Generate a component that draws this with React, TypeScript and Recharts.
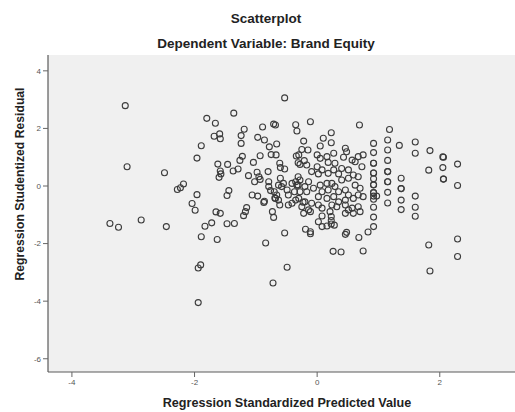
import { ScatterChart, Scatter, XAxis, YAxis, CartesianGrid } from 'recharts';

// Regression Standardized Predicted Value (x) / Regression Studentized Residual (y)
const predicted: number[] = [
  -3.13, -3.1, -2.49, -3.38, -3.24, -2.87, -2.46, -2.18, -2.28, -2.23, -1.96, -2.04, -1.99,
  -1.89, -1.96, -1.8, -1.66, -1.68, -1.59, -1.58, -1.36, -1.62, -1.58, -1.6, -1.57, -1.46,
  -1.37, -1.29, -1.26, -1.22, -1.19, -1.24, -1.24, -1.44, -1.47, -1.65, -1.58, -1.15, -1.17,
  -1.2, -1.83, -1.72, -1.47, -1.35, -1.89, -1.63, -0.84, -0.53, -0.53, -1.94, -1.9, -1.94,
  -0.72, -0.49,
  -0.71, -0.68, -0.89, -0.97, -0.86, -0.35, -0.33, -0.78, -0.66, -0.75, -0.67, -1.04, -0.93,
  -1.12, -0.98, -0.95, -1.02, -0.8, -0.93, -0.61, -0.6, -0.53, -0.34, -0.31, -0.31, -0.79,
  -0.79, -0.7, -0.76, -0.6, -0.55, -0.63, -0.49, -0.41, -0.35, -0.31, -0.37, -0.47, -0.58,
  -0.68, -0.63, -0.66, -1.06, -0.97, -0.86, -0.47, -0.41, -0.35, -0.73, -0.71, -0.87, -0.61,
  -0.23, -0.69,
  -0.11, 0.69, 0.23, 0.23, 0.1, 0.05, -0.22, -0.25, -0.15, -0.3, -0.21, -0.28, -0.17,
  0.0, 0.05, 0.16, 0.27, 0.18, 0.29, 0.46, 0.48, 0.43, 0.57, 0.62, 0.67, 0.75, 0.73,
  0.0, 0.08, 0.02, -0.09, 0.18, 0.27, 0.35, 0.4, 0.51, 0.59, 0.67, 0.51, 0.4,
  -0.28, -0.14, -0.2, -0.33, -0.28, -0.17, -0.06,
  0.05, 0.16, 0.24, 0.29, 0.18, 0.08, 0.35, 0.46, 0.27, 0.16, 0.02,
  0.62, 0.7, 0.67, 0.59, 0.75, 0.51, 0.46, 0.35,
  -0.3, -0.2, -0.09, -0.25, -0.14,
  0.02, 0.08, 0.24, 0.21, 0.23, 0.23, 0.32, 0.46, 0.51, 0.46, 0.57, 0.67, 0.7, 0.59,
  -0.22, -0.11, 0.02, 0.08, 0.16, 0.23, 0.28, 0.08,
  1.18, 0.26, 0.39, 0.75, -0.19, -0.11, -0.11, 0.46, 0.48, 0.68, 0.83,
  0.92, 0.92, 0.92, 0.92, 0.92, 0.92, 0.92, 0.92, 0.92, 0.92, 0.92, 0.92,
  0.92, 0.92, 0.92, 0.92, 0.97,
  1.15, 1.15, 1.15, 1.15, 1.15, 1.15, 1.15, 1.15, 1.15,
  1.37, 1.37, 1.37, 1.37, 1.37, 1.34,
  1.6, 1.6, 1.6, 1.6, 1.6,
  1.84, 1.82, 2.05, 2.05, 2.06, 2.06, 2.06, 2.29, 2.29,
  1.82, 2.29, 2.29, 1.84,
];

const residual: number[] = [
  2.79, 0.67, 0.46, -1.3, -1.43, -1.18, -1.41, 0.07, -0.12, -0.06, -0.3, -0.61, -0.84,
  1.4, 0.97, 2.35, 2.18, 1.73, 1.81, 1.64, 2.53, 0.76, 0.52, 0.3, 0.42, 0.75,
  0.52, 0.59, 0.89, 1.03, 1.97, 1.75, 1.48, -0.16, -0.33, -0.9, -0.95, -0.75, -0.89,
  -1.03, -1.4, -1.28, -1.31, -1.3, -1.76, -1.86, -1.98, -1.63, 3.06, -2.85, -2.74, -4.05,
  -3.37, -2.82,
  2.15, 2.12, 2.05, 1.69, 1.6, 2.13, 1.91, 1.36, 1.46, 1.09, 1.08, 0.82, 1.05,
  0.36, 0.48, 0.32, 0.15, 0.5, 0.23, 0.79, 0.64, 0.59, 1.04, 0.81, 0.32, 0.15,
  -0.02, -0.2, -0.16, 0.27, 0.09, 0.03, -0.14, 0.09, 0.15, 0.03, -0.2, -0.31, -0.02,
  -0.43, -0.49, -0.31, -0.31, -0.35, -0.53, -0.66, -0.6, -0.49, -0.89, -1.09, -0.57, -0.66,
  -0.56, -0.42,
  2.23, 2.12, 1.85, 1.5, 1.66, 1.39, 1.56, 1.27, 1.25, 1.08, 0.88, 0.75, 0.73,
  1.08, 0.96, 1.02, 1.14, 0.82, 0.79, 1.31, 1.19, 1.0, 0.9, 0.84, 1.02, 1.08, 0.67,
  0.67, 0.56, 0.42, 0.5, 0.44, 0.56, 0.42, 0.61, 0.56, 0.38, 0.32, 0.27, 0.21,
  0.21, 0.15, -0.02, 0.03, -0.2, -0.2, -0.08,
  0.03, 0.09, 0.09, -0.02, -0.14, -0.2, -0.2, -0.14, -0.37, -0.43, -0.37,
  0.03, -0.08, -0.31, -0.43, -0.37, -0.31, -0.49, -0.55,
  -0.43, -0.55, -0.6, -0.72, -0.83,
  -0.66, -0.77, -0.66, -0.89, -1.06, -1.2, -0.72, -0.66, -0.83, -0.95, -0.77, -0.72, -0.89, -0.95,
  -0.95, -0.89, -1.24, -1.41, -1.39, -1.32, -1.36, -1.04,
  1.96, -2.27, -2.29, -2.26, -1.5, -1.59, -1.66, -1.68, -1.61, -1.79, -1.6,
  1.48, 1.16, 0.79, 0.45, 0.25, 0.04, -0.23, -0.35, -0.46, -0.74, -1.08, -1.41,
  0.79, 0.45, 0.04, -0.23, -0.35,
  1.6, 1.25, 0.89, 0.5, 0.15, -0.22, -0.59, 0.5, 0.15,
  0.27, -0.09, -0.49, -0.82, -0.09, 1.41,
  1.53, 1.14, -0.35, -0.74, -1.05,
  1.23, 0.55, 1.01, 0.64, 0.24, 1.0, 0.24, 0.76, 0.02,
  -2.05, -1.84, -2.45, -2.95,
];

const xTicks = [-4, -2, 0, 2];
const yTicks = [-6, -4, -2, 0, 2, 4];

const points = predicted.map((x, i) => ({ x, y: residual[i] }));

const font = 'Arial, "Liberation Sans", sans-serif';

const Ring = (props: any) => {
  const { cx, cy } = props;
  if (cx == null || cy == null) return null;
  return <circle cx={cx} cy={cy} r={3} fill="none" stroke="#3c3c3c" strokeWidth={1.1} />;
};

export default function App() {
  return (
    <div
      style={{
        position: 'absolute',
        left: 0,
        top: 0,
        width: 515,
        height: 412,
        overflow: 'hidden',
        background: '#fff',
        fontFamily: font,
      }}
    >
      <div
        style={{
          position: 'absolute',
          left: 0,
          width: 532,
          top: 11,
          textAlign: 'center',
          fontWeight: 'bold',
          fontSize: 13.5,
          lineHeight: '16px',
          color: '#222',
        }}
      >
        Scatterplot
      </div>
      <div
        style={{
          position: 'absolute',
          left: 0,
          width: 532,
          top: 36,
          textAlign: 'center',
          fontWeight: 'bold',
          fontSize: 13.5,
          lineHeight: '16px',
          color: '#222',
        }}
      >
        Dependent Variable: Brand Equity
      </div>
      <div
        style={{
          position: 'absolute',
          left: 20,
          top: 184,
          transform: 'translate(-50%, -50%) rotate(-90deg)',
          whiteSpace: 'nowrap',
          fontWeight: 'bold',
          fontSize: 12.2,
          color: '#222',
        }}
      >
        Regression Studentized Residual
      </div>
      <div
        style={{
          position: 'absolute',
          left: 0,
          width: 574,
          top: 396,
          textAlign: 'center',
          fontWeight: 'bold',
          fontSize: 12.6,
          lineHeight: '15px',
          color: '#222',
        }}
      >
        Regression Standardized Predicted Value
      </div>
      <div style={{ position: 'absolute', left: 0, top: 0 }}>
        <ScatterChart width={535} height={412} margin={{ top: 55, right: 10, bottom: 0, left: 0 }}>
          <CartesianGrid fill="#f0f0f0" horizontal={false} vertical={false} />
          <XAxis
            xAxisId="top"
            orientation="top"
            type="number"
            dataKey="x"
            domain={[-4.39, 3.39]}
            height={0}
            tick={false}
            tickLine={false}
            axisLine={{ stroke: '#5a5a5a', strokeWidth: 1.2 }}
            allowDataOverflow
          />
          <XAxis
            type="number"
            dataKey="x"
            domain={[-4.39, 3.39]}
            ticks={xTicks}
            height={40}
            tickSize={5}
            tickMargin={2}
            allowDataOverflow
            axisLine={{ stroke: '#5a5a5a', strokeWidth: 1.2 }}
            tickLine={{ stroke: '#666' }}
            tick={{ fontSize: 8, fill: '#555', fontFamily: font }}
          />
          <YAxis
            type="number"
            dataKey="y"
            domain={[-6.46, 4.55]}
            ticks={yTicks}
            width={48}
            tickSize={5}
            tickMargin={2}
            allowDataOverflow
            axisLine={{ stroke: '#5a5a5a', strokeWidth: 1.2 }}
            tickLine={{ stroke: '#666' }}
            tick={{ fontSize: 8, fill: '#555', fontFamily: font }}
          />
          <Scatter data={points} shape={Ring} isAnimationActive={false} />
        </ScatterChart>
      </div>
    </div>
  );
}
